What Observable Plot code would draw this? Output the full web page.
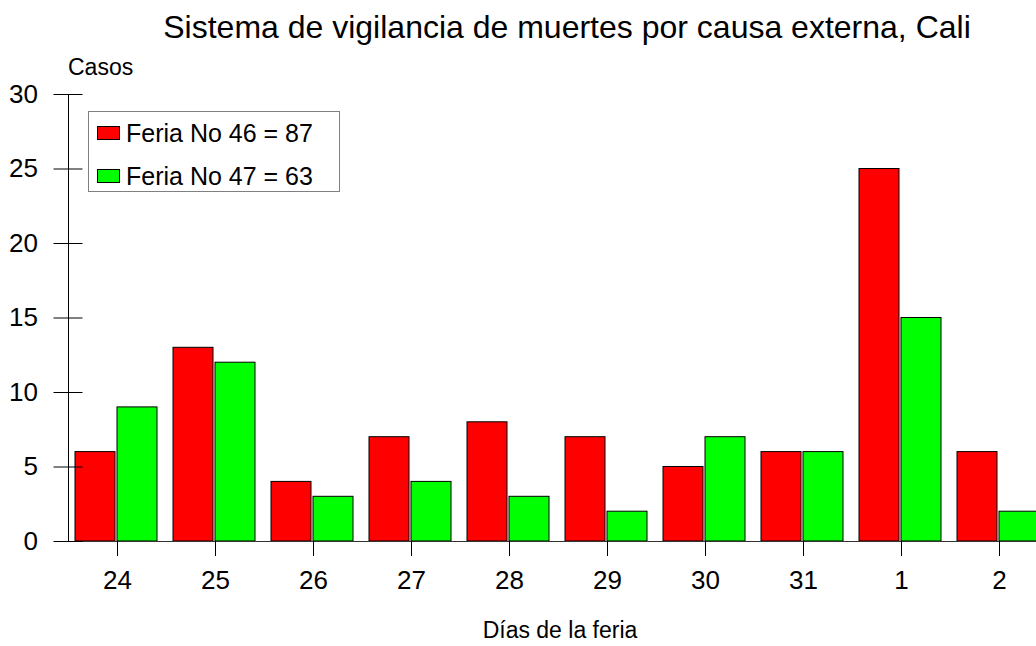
<!DOCTYPE html>
<html>
<head>
<meta charset="utf-8">
<script src="https://cdn.jsdelivr.net/npm/d3@7"></script>
<script src="https://cdn.jsdelivr.net/npm/@observablehq/plot@0.6"></script>
<style>
  html, body { margin: 0; padding: 0; background: #fff; overflow: hidden; }
  body { font-family: "Liberation Sans", Arial, sans-serif; }
  #wrap { position: relative; width: 1036px; height: 646px; overflow: hidden; }
  #head { height: 70px; }
  #title { position: absolute; left: 0; width: 1134px; top: 11px; text-align: center; font-size: 32px; line-height: 32px; color: #000; white-space: nowrap; }
  #ylab { position: absolute; left: 68px; top: 56px; font-size: 23px; line-height: 23px; color: #000; }
  #xlab { position: absolute; left: 0; width: 1120px; top: 619px; text-align: center; font-size: 23px; line-height: 23px; color: #000; }
  #legend { position: absolute; left: 88px; top: 111px; width: 252px; height: 81px; border: 1px solid #808080; box-sizing: border-box; background: #fff; }
  .item { position: absolute; left: 8px; display: flex; align-items: center; font-size: 25px; line-height: 26px; white-space: nowrap; }
  .sw { width: 21px; height: 12px; border: 1px solid #000; margin-right: 6px; }
  #chart svg { overflow: hidden; display: block; }
</style>
</head>
<body>
<div id="wrap">
  <div id="head"></div>
  <div id="chart"></div>
  <div id="title">Sistema de vigilancia de muertes por causa externa, Cali</div>
  <div id="ylab">Casos</div>
  <div id="xlab">Días de la feria</div>
  <div id="legend"></div>
</div>
<script>
const days = ["24", "25", "26", "27", "28", "29", "30", "31", "1", "2"];
const feria46 = [6, 13, 4, 7, 8, 7, 5, 6, 25, 6];
const feria47 = [9, 12, 3, 4, 3, 2, 7, 6, 15, 2];
const seriesNames = ["Feria No 46 = 87", "Feria No 47 = 63"];
const seriesColors = ["#ff0000", "#00ff00"];
const yTicks = [0, 5, 10, 15, 20, 25, 30];

const rows46 = days.map((d, i) => ({day: d, value: feria46[i]}));
const rows47 = days.map((d, i) => ({day: d, value: feria47[i]}));

const chart = Plot.plot({
  width: 1036,
  height: 576,
  marginTop: 24,
  marginBottom: 105,
  marginLeft: 68,
  marginRight: 0,
  style: {fontFamily: "'Liberation Sans', Arial, sans-serif", fontSize: "26px", color: "#000", background: "transparent", overflow: "hidden"},
  x: {type: "band", domain: days, range: [68, 1048], padding: 0},
  y: {domain: [0, 30]},
  marks: [
    Plot.rectY(rows46, {x: "day", y: "value", fill: seriesColors[0], stroke: "#000", strokeWidth: 1, insetLeft: 7, insetRight: 51}),
    Plot.rectY(rows47, {x: "day", y: "value", fill: seriesColors[1], stroke: "#000", strokeWidth: 1, insetLeft: 49, insetRight: 9}),
    Plot.ruleY([0], {stroke: "#333"}),
    Plot.frame({anchor: "left", stroke: "#000"}),
    Plot.axisY({ticks: yTicks, tickSize: 29, dx: 14.5, tickPadding: 16, label: null, fontSize: 26, stroke: "#000"}),
    Plot.axisX({tickSize: 15, tickPadding: 14, label: null, fontSize: 26, stroke: "#000"})
  ]
});
document.getElementById("chart").appendChild(chart);

const legend = document.getElementById("legend");
seriesNames.forEach((name, i) => {
  const item = document.createElement("div");
  item.className = "item";
  item.style.top = (8 + i * 43) + "px";
  const sw = document.createElement("div");
  sw.className = "sw";
  sw.style.background = seriesColors[i];
  const t = document.createElement("span");
  t.textContent = name;
  item.appendChild(sw);
  item.appendChild(t);
  legend.appendChild(item);
});
</script>
</body>
</html>
